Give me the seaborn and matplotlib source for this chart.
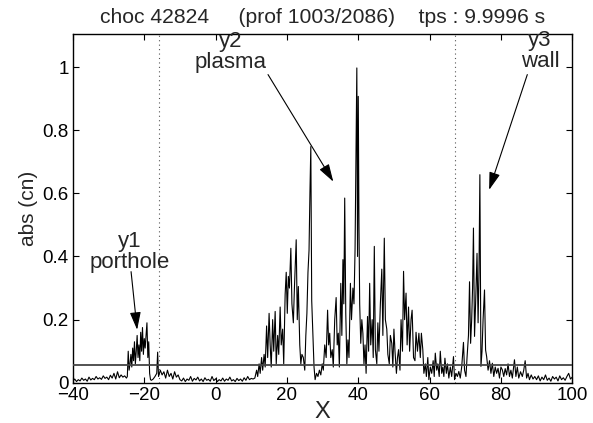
import numpy as np
import pandas as pd
import matplotlib
matplotlib.use("Agg")
import matplotlib.pyplot as plt
import seaborn as sns

# ---------------- data ----------------
x_left = [-40, -39.5, -39, -38.5, -38, -37.5, -37, -36.5, -36, -35.5, -35, -34.5, -34, -33.5,
          -33, -32.5, -32, -31.5, -31, -30.5, -30, -29.5, -29, -28.5, -28, -27.5, -27, -26.5,
          -26, -25.5, -25]
y_left = [0.005, 0.012, 0.004, 0.010, 0.006, 0.015, 0.008, 0.012, 0.005, 0.018, 0.009, 0.014,
          0.010, 0.020, 0.012, 0.016, 0.011, 0.022, 0.014, 0.018, 0.010, 0.024, 0.015, 0.030,
          0.012, 0.035, 0.016, 0.025, 0.018, 0.022, 0.015]

x_porthole = [-24.75, -24.5, -24.25, -24, -23.75, -23.5, -23.25, -23, -22.75, -22.5, -22.25,
              -22, -21.75, -21.5, -21.25, -21, -20.75, -20.5, -20.25, -20, -19.75, -19.5,
              -19.25, -19, -18.75, -18.5, -18.25]
y_porthole = [0.02, 0.10, 0.04, 0.06, 0.09, 0.05, 0.11, 0.07, 0.13, 0.06, 0.10, 0.15, 0.08,
              0.12, 0.07, 0.16, 0.10, 0.175, 0.09, 0.14, 0.11, 0.15, 0.19, 0.08, 0.13, 0.03, 0.01]

x_gap = [-18, -17.5, -17, -16.5, -16.25, -16, -15.5, -15, -14.5, -14, -13.5, -13, -12.5, -12,
         -11.5, -11, -10.5, -10]
y_gap = [0.008, 0.012, 0.02, 0.03, 0.097, 0.02, 0.04, 0.025, 0.035, 0.015, 0.04, 0.02, 0.03,
         0.012, 0.035, 0.018, 0.025, 0.01]

x_mid = [-9.5, -9, -8.5, -8, -7.5, -7, -6.5, -6, -5.5, -5, -4.5, -4, -3.5, -3, -2.5, -2, -1.5,
         -1, -0.5, 0, 0.5, 1, 1.5, 2, 2.5, 3, 3.5, 4, 4.5, 5, 5.5, 6, 6.5, 7, 7.5, 8, 8.5, 9,
         9.5, 10, 10.5]
y_mid = [0.006, 0.015, 0.004, 0.012, 0.008, 0.02, 0.005, 0.014, 0.009, 0.018, 0.006, 0.012,
         0.004, 0.016, 0.008, 0.011, 0.005, 0.02, 0.007, 0.013, 0.004, 0.01, 0.006, 0.015,
         0.005, 0.012, 0.008, 0.018, 0.006, 0.01, 0.004, 0.014, 0.007, 0.012, 0.005, 0.016,
         0.008, 0.02, 0.01, 0.014, 0.012]

x_plasma = [11.0, 11.5, 11.8, 12.2, 12.5, 12.9, 13.2, 13.6, 13.9, 14.3, 14.6, 15.0, 15.3, 15.6,
            16.0, 16.3, 16.7, 17.0, 17.4, 17.7, 18.1, 18.4, 18.8, 19.1, 19.5, 19.8, 20.1, 20.4,
            20.7, 21.1, 21.4, 21.8, 22.1, 22.6, 22.9, 23.2, 23.6, 23.9, 24.2, 24.6, 25.0, 25.3,
            25.6, 25.9, 26.2, 26.45, 26.7, 26.95, 27.3, 27.6, 27.9, 28.3, 28.7, 29.1, 29.5,
            29.9, 30.2, 30.6, 31.0, 31.4, 31.7, 32.0, 32.3, 32.7, 33.0, 33.4, 33.8, 34.1, 34.4,
            34.7, 35.1, 35.4, 35.7, 35.95, 36.2, 36.5, 36.8, 37.1, 37.4, 37.8, 38.1, 38.5, 38.8,
            39.1, 39.35, 39.6, 39.8, 40.0, 40.2, 40.4, 40.7, 41.0, 41.3, 41.6, 41.9, 42.2, 42.6,
            42.9, 43.2, 43.5, 43.9, 44.2, 44.5, 44.8, 45.2, 45.5, 45.8, 46.2, 46.6, 46.9, 47.3,
            47.6, 48.0, 48.3, 48.7, 49.0, 49.4, 49.7, 50.0, 50.3, 50.7, 51.0, 51.3, 51.7, 52.0,
            52.4, 52.7, 53.0, 53.4, 53.7, 54.1, 54.4, 54.8, 55.1, 55.5, 55.9, 56.2, 56.6, 57.0,
            57.4, 57.7, 58.1, 58.4, 58.8, 59.1, 59.5, 59.8, 60.2, 60.6, 61.0, 61.3, 61.6, 62.0,
            62.3, 62.7, 63.0, 63.4, 63.7, 64.0, 64.3, 64.7, 65.0, 65.4, 65.8, 66.2, 66.7, 67.0,
            67.4, 67.8, 68.2, 68.6, 69.0]
y_plasma = [0.015, 0.04, 0.02, 0.06, 0.03, 0.08, 0.04, 0.09, 0.05, 0.18, 0.08, 0.22, 0.12, 0.05,
            0.20, 0.10, 0.226, 0.06, 0.15, 0.09, 0.24, 0.12, 0.17, 0.06, 0.28, 0.35, 0.22, 0.337,
            0.30, 0.426, 0.25, 0.19, 0.30, 0.453, 0.20, 0.305, 0.12, 0.06, 0.09, 0.08, 0.04, 0.15,
            0.22, 0.35, 0.42, 0.60, 0.748, 0.26, 0.15, 0.05, 0.01, 0.03, 0.02, 0.04, 0.025,
            0.06, 0.04, 0.12, 0.08, 0.23, 0.12, 0.157, 0.08, 0.105, 0.05, 0.20, 0.27, 0.12, 0.157,
            0.05, 0.315, 0.15, 0.39, 0.25, 0.585, 0.22, 0.06, 0.136, 0.08, 0.315, 0.20, 0.30, 0.25,
            0.42, 0.70, 0.997, 0.40, 0.907, 0.50, 0.25, 0.125, 0.20, 0.157, 0.06, 0.12, 0.03, 0.21,
            0.10, 0.315, 0.12, 0.20, 0.08, 0.432, 0.105, 0.06, 0.19, 0.10, 0.25, 0.36, 0.15, 0.458,
            0.20, 0.17, 0.09, 0.06, 0.15, 0.125, 0.05, 0.17, 0.10, 0.03, 0.08, 0.105, 0.04, 0.20,
            0.10, 0.353, 0.20, 0.284, 0.12, 0.24, 0.10, 0.20, 0.23, 0.08, 0.07, 0.16, 0.10, 0.157,
            0.08, 0.157, 0.105, 0.03, 0.06, 0.02, 0.08, 0.01, 0.05, 0.03, 0.07, 0.02, 0.094, 0.04,
            0.06, 0.02, 0.10, 0.03, 0.05, 0.02, 0.078, 0.03, 0.06, 0.015, 0.05, 0.02, 0.083, 0.01,
            0.03, 0.02, 0.036, 0.015, 0.05]

x_wall = [69.5, 69.8, 70.2, 70.5, 70.9, 71.2, 71.5, 71.8, 72.05, 72.3, 72.6, 72.9, 73.3, 73.6,
          73.85, 74.1, 74.4, 74.7, 75.0, 75.4, 75.7, 76.0, 76.4, 76.8, 77.2, 77.6, 78.0, 78.4,
          78.8, 79.2, 79.6, 80.0, 80.4, 80.8, 81.2, 81.6, 82.0, 82.4, 82.8, 83.2, 83.8, 84.2,
          84.6, 85.0, 85.5, 86.0, 86.4, 86.8, 87.2, 87.6, 88.0, 88.5, 89.0, 89.5]
y_wall = [0.128, 0.04, 0.02, 0.08, 0.15, 0.32, 0.125, 0.20, 0.30, 0.49, 0.147, 0.25, 0.41, 0.19,
          0.35, 0.659, 0.052, 0.10, 0.20, 0.294, 0.104, 0.083, 0.04, 0.07, 0.03, 0.062, 0.02, 0.05,
          0.03, 0.046, 0.015, 0.05, 0.041, 0.02, 0.045, 0.025, 0.06, 0.02, 0.04, 0.015, 0.073,
          0.02, 0.05, 0.015, 0.035, 0.02, 0.04, 0.07, 0.015, 0.03, 0.01, 0.025, 0.012, 0.02]

x_right = [90, 90.5, 91, 91.5, 92, 92.5, 93, 93.5, 94, 94.5, 95, 95.5, 96, 96.5, 97, 97.5, 98,
           98.5, 99, 99.5, 100]
y_right = [0.01, 0.022, 0.006, 0.018, 0.01, 0.025, 0.008, 0.015, 0.005, 0.02, 0.012, 0.018,
           0.006, 0.022, 0.01, 0.016, 0.008, 0.02, 0.03, 0.012, 0.018]

threshold = 0.055
vlines_x = [-16, 67]

x_ticks = [-40, -20, 0, 20, 40, 60, 80, 100]
y_ticks = [0, 0.2, 0.4, 0.6, 0.8, 1]
y_tick_labels = ["0", "0.2", "0.4", "0.6", "0.8", "1"]

title_text = "choc 42824     (prof 1003/2086)    tps : 9.9996 s"

df = pd.DataFrame({
    "X": x_left + x_porthole + x_gap + x_mid + x_plasma + x_wall + x_right,
    "abs": y_left + y_porthole + y_gap + y_mid + y_plasma + y_wall + y_right,
})

# ---------------- plotting ----------------
sns.set_theme(style="ticks")
plt.rcParams["font.family"] = ["Liberation Sans", "DejaVu Sans"]

fig = plt.figure(figsize=(5.93, 4.23), dpi=100)
ax = fig.add_axes([0.123, 0.095, 0.842, 0.825])

for xv in vlines_x:
    ax.axvline(xv, color="#555555", linestyle=(0, (1, 3)), linewidth=0.8, zorder=1)

sns.lineplot(data=df, x="X", y="abs", ax=ax, color="black", linewidth=0.8,
             estimator=None, sort=False, zorder=3)
ax.axhline(threshold, color="#444444", linewidth=1.3, zorder=4)

ax.set_xlim(-40, 100)
ax.set_ylim(0, 1.105)
ax.set_xticks(x_ticks)
ax.set_yticks(y_ticks)
ax.set_yticklabels(y_tick_labels)
ax.tick_params(direction="in", top=True, right=True, length=4, width=0.8,
               labelsize=13.5, colors="black", pad=3)
for sp in ax.spines.values():
    sp.set_visible(True)
    sp.set_linewidth(1.0)
    sp.set_color("black")

ax.set_xlabel("X", fontsize=17, labelpad=-2)
ax.set_ylabel("abs (cn)", fontsize=15, labelpad=3)
ax.set_title(title_text, fontsize=15.2, pad=8)

arrow_kw = dict(arrowstyle="-|>,head_length=0.9,head_width=0.28", color="black",
                linewidth=0.8, shrinkA=0, shrinkB=0)

ax.text(-24, 0.413, "y1\nporthole", ha="center", va="center", fontsize=16, linespacing=1.0)
ax.annotate("", xy=(-22.0, 0.168), xytext=(-23.7, 0.352), arrowprops=arrow_kw)

ax.text(4.3, 1.048, "y2\nplasma", ha="center", va="center", fontsize=16, linespacing=1.0)
ax.annotate("", xy=(33.0, 0.637), xytext=(14.7, 0.976), arrowprops=arrow_kw)

ax.text(91.0, 1.052, "y3\nwall", ha="center", va="center", fontsize=16, linespacing=1.0)
ax.annotate("", xy=(76.7, 0.611), xytext=(87.4, 0.976), arrowprops=arrow_kw)

fig.savefig("out.png", dpi=100)
